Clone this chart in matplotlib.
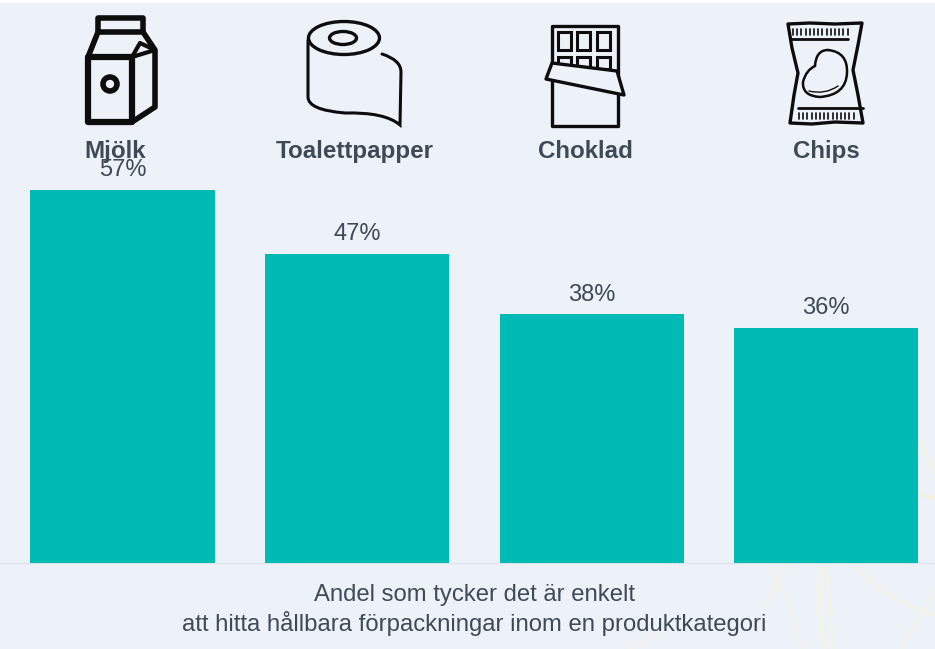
import matplotlib
matplotlib.use("Agg")
import matplotlib.pyplot as plt
from matplotlib.patches import Circle, Ellipse, PathPatch, Polygon, Rectangle
from matplotlib.path import Path

plt.rcParams['font.family'] = ['Liberation Sans', 'DejaVu Sans']

categories = ["Mjölk", "Toalettpapper", "Choklad", "Chips"]
values = [57, 47.3, 38, 36]
value_labels = ["57%", "47%", "38%", "36%"]
caption = "Andel som tycker det är enkelt\natt hitta hållbara förpackningar inom en produktkategori"

W = 935
H = 649
BG = "#edf2f9"
TEAL = "#00bab5"
TEXT = "#3f4a56"
INK = "#0d0d0d"

fig = plt.figure(figsize=(W / 100, H / 100), dpi=100, facecolor="white")

# overlay in pixel coordinates for background and icons
bg = fig.add_axes([0, 0, 1, 1], zorder=0)
bg.set_xlim(0, W)
bg.set_ylim(H, 0)
bg.axis("off")
bg.add_patch(Rectangle((0, 3), W, H - 3, fc=BG, ec="none"))

# faint straw lines behind the chart, bottom right
def curve(ax, pts, color="#f3f4e6", lw=2.5, zorder=1):
    codes = [Path.MOVETO] + [Path.CURVE3] * (len(pts) - 1)
    ax.add_patch(PathPatch(Path(pts, codes), fc="none", ec=color, lw=lw, zorder=zorder))

curve(bg, [(825, 649), (815, 600), (822, 566)])
curve(bg, [(832, 649), (830, 600), (826, 566)], lw=2)
curve(bg, [(765, 610), (775, 585), (785, 566)], lw=2)
curve(bg, [(855, 566), (885, 600), (935, 615)], lw=2)
curve(bg, [(770, 566), (800, 620), (800, 649)], lw=1.5)
curve(bg, [(920, 440), (928, 460), (935, 475)], lw=2)
curve(bg, [(920, 495), (928, 497), (935, 498)], color="#f5f0e0", lw=3)
curve(bg, [(900, 649), (915, 625), (935, 590)], lw=1.5)
curve(bg, [(630, 649), (650, 640), (665, 630)], lw=1.5)

# bars
ax = fig.add_axes([0, 0, 1, 1], zorder=1)
ax.patch.set_alpha(0)
step = 234.6
ax.set_xlim(-122.5 / step, (W - 122.5) / step)
ax.set_ylim(-(H - 563) / 6.54, 563 / 6.54)
ax.axis("off")
xs = list(range(len(categories)))
ax.bar(xs, values, width=0.786, color=TEAL, zorder=3)
ax.axhline(0, color="#dfe3e8", lw=1, zorder=2)
for x, v, lab in zip(xs, values, value_labels):
    ax.annotate(lab, (x, v), xytext=(0, 14.2), textcoords="offset points",
                ha="center", va="center", fontsize=17, color=TEXT, zorder=5)

# icons and labels on top
top = fig.add_axes([0, 0, 1, 1], zorder=2)
top.patch.set_alpha(0)
top.set_xlim(0, W)
top.set_ylim(H, 0)
top.axis("off")

label_x = [115, 354.5, 585, 826]
for lx, c in zip(label_x, categories):
    top.text(lx, 158, c, ha="center", va="baseline", fontsize=17.4, fontweight="bold", color=TEXT)

def line(pts, lw=2.0, closed=False, fc="none"):
    top.add_patch(Polygon(pts, closed=closed, fc=fc, ec=INK, lw=lw, joinstyle="round", capstyle="round"))

# milk carton
line([(98, 18), (143, 18), (143, 32), (98, 32)], lw=4, closed=True)
line([(88, 57), (132, 57), (132, 122), (88, 122)], lw=4.5, closed=True)
line([(98, 32), (88, 57)], lw=4)
line([(143, 32), (155, 50), (155, 107), (132, 122)], lw=4)
line([(132, 57), (140, 43), (155, 50)], lw=3)
line([(132, 57), (155, 50)], lw=3)
top.add_patch(Circle((110, 84), 7, fc=BG, ec=INK, lw=4))

# toilet roll
def bez(verts, codes, lw=2.2):
    top.add_patch(PathPatch(Path(verts, codes), fc="none", ec=INK, lw=lw, capstyle="round"))

top.add_patch(Ellipse((344, 38), 71, 33, fc="none", ec=INK, lw=2.4))
top.add_patch(Ellipse((343, 38), 27, 13, fc="none", ec=INK, lw=2.4))
bez([(308, 40), (308, 97), (308, 110), (345, 113), (385, 112), (400, 125), (401, 72),
     (401, 60), (382, 54)],
    [Path.MOVETO, Path.LINETO, Path.CURVE3, Path.CURVE3, Path.CURVE3, Path.CURVE3, Path.LINETO,
     Path.CURVE3, Path.CURVE3])

# chocolate bar
line([(552, 26), (618, 26), (618, 126), (552, 126)], lw=2.4, closed=True)
for sx in [558, 577, 597]:
    top.add_patch(Rectangle((sx, 32), 13, 18, fc="none", ec=INK, lw=2.2))
    top.add_patch(Rectangle((sx, 57), 13, 12, fc="none", ec=INK, lw=2.2))
line([(552, 63), (617, 71), (624, 95), (546, 79)], lw=2.4, closed=True, fc=BG)

# chips bag
line([(788, 24), (810, 23), (835, 24), (862, 23), (858, 45), (853, 70), (858, 95), (863, 123),
      (835, 122), (812, 124), (790, 123), (794, 95), (798, 73), (792, 48)], lw=2.4, closed=True)
line([(792, 39), (848, 39)], lw=2)
line([(798, 108), (863, 108)], lw=2)
for i in range(14):
    line([(793 + i * 4.2, 29), (793 + i * 4.2, 35)], lw=1.2)
    line([(799 + i * 4.2, 113), (799 + i * 4.2, 119)], lw=1.2)
bez([(828, 50), (848, 52), (847, 73), (846, 95), (820, 97), (802, 96), (803, 82), (806, 70),
     (815, 66), (816, 50), (828, 50)],
    [Path.MOVETO] + [Path.CURVE3] * 10, lw=1.8)
bez([(809, 91), (825, 95), (838, 86)], [Path.MOVETO, Path.CURVE3, Path.CURVE3], lw=1)

top.text(474, 610, caption, ha="center", va="center", fontsize=17.2, color=TEXT, linespacing=1.29)

fig.savefig("out.png", dpi=100)
